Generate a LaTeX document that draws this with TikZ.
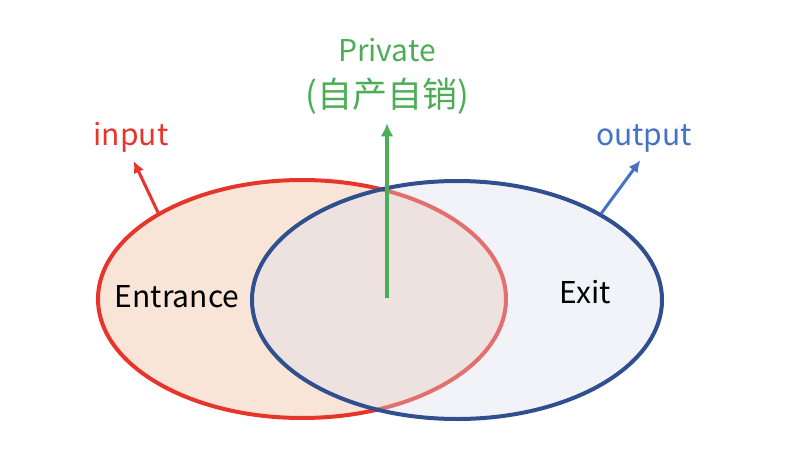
\documentclass[tikz,border=0pt]{standalone}
\usepackage{fontspec}
\setmainfont{Noto Sans CJK SC}
\usetikzlibrary{arrows.meta,positioning,shapes.geometric}
\definecolor{Rouge}{HTML}{E8352B}
\definecolor{Navy}{HTML}{2F4F8E}
\definecolor{Sky}{HTML}{4472C4}
\definecolor{Leaf}{HTML}{4DAD56}
\definecolor{Peach}{HTML}{F8E5D8}
\definecolor{Haze}{HTML}{DADEEE}

\begin{document}
\begin{tikzpicture}[x=1pt, y=-1pt, >=Latex, every node/.style={font=\fontsize{30}{36}\selectfont}]
    \useasboundingbox (0,0) rectangle (788,466);
    \node[ellipse, draw=Rouge, fill=Peach, line width=4pt, minimum width=408pt, minimum height=238pt] (entr) at (302,299) {};
    \node[ellipse, draw=Navy, fill=Haze, fill opacity=0.35, line width=4pt, minimum width=410pt, minimum height=238pt] (exit) at (457,300) {};
    \node[anchor=base] (entrtxt) at (177,307) {Entrance};
    \node[anchor=base] (exittxt) at (585,303) {Exit};
    \node[anchor=base, text=Rouge] (input) at (131,145) {input};
    \node[anchor=base, text=Sky] (output) at (644,145) {output};
    \node[anchor=base, text=Leaf] (priv) at (387,61) {Private};
    \node[anchor=base, text=Leaf, font=\fontsize{35}{42}\selectfont] (zczx) at (387,107) {(自产自销)};
    \coordinate (pbase) at (387,298);
    \draw[-{Latex[length=13pt, width=13pt]}, line width=4pt, color=Leaf, shorten >=6pt] (pbase) -- (zczx.south);
    \draw[-{Latex[length=12pt, width=11pt]}, line width=3pt, color=Rouge, shorten >=6pt] (entr.149) -- (input.south);
    \draw[-{Latex[length=12pt, width=11pt]}, line width=3pt, color=Sky, shorten >=6pt] (exit.31) -- (output.south);
  \end{tikzpicture}
\end{document}
